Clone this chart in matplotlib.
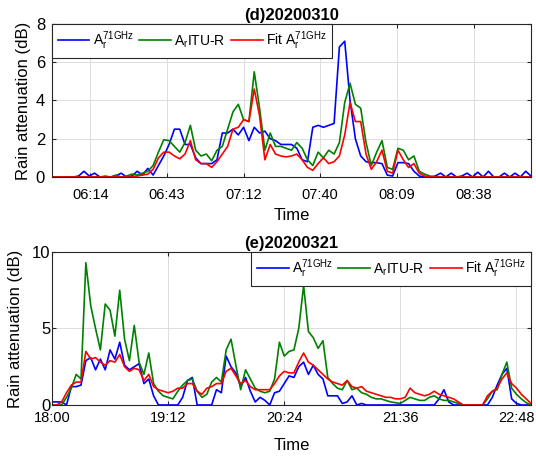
import numpy as np
import matplotlib
matplotlib.use("Agg")
import matplotlib.pyplot as plt
from matplotlib.ticker import FixedLocator, FuncFormatter

plt.rcParams['font.family'] = ['Liberation Sans', 'DejaVu Sans']
plt.rcParams['mathtext.fontset'] = 'custom'
plt.rcParams['mathtext.rm'] = 'Liberation Sans'
plt.rcParams['mathtext.it'] = 'Liberation Sans:italic'
plt.rcParams['mathtext.bf'] = 'Liberation Sans:bold'

# (d) 2020-03-10, sampled every 2 min from 06:00
d_step = 2
d_meas = [0, 0, 0, 0, 0, 0.05, 0.3, 0.05, 0.2, 0,
          0, 0, 0.05, 0.2, 0, 0.05, 0.3, 0.1, 0.45, 0.1,
          0.6, 1.1, 1.7, 2.5, 2.5, 1.7, 1.7, 1.0, 0.7, 0.7,
          0.7, 0.9, 2.3, 2.3, 2.5, 2.2, 2.6, 1.9, 2.6, 2.3,
          2.4, 2.0, 1.9, 1.7, 1.7, 1.7, 1.5, 0.9, 0.8, 2.6,
          2.7, 2.6, 2.7, 2.8, 6.8, 7.1, 4.0, 2.0, 1.1, 0.8,
          0.75, 0.75, 0.7, 0.1, 0.05, 0.75, 0.75, 0.7, 0.3, 0.05,
          0, 0, 0.05, 0.2, 0, 0.2, 0, 0.05, 0.2, 0,
          0.25, 0, 0.3, 0, 0, 0.2, 0, 0.2, 0, 0.3,
          0.05]
d_itu = [0, 0, 0, 0, 0, 0, 0, 0, 0, 0,
         0.05, 0, 0.1, 0, 0.05, 0.15, 0.1, 0.2, 0.3, 0.6,
         1.3, 1.95, 1.9, 1.6, 1.3, 1.8, 2.7, 1.4, 1.1, 1.2,
         0.85, 1.4, 1.6, 2.5, 3.4, 3.8, 3.0, 2.9, 5.5, 3.6,
         1.4, 2.3, 1.6, 1.6, 1.5, 1.4, 1.8, 1.5, 0.9, 0.6,
         1.3, 1.0, 1.4, 1.2, 1.8, 3.9, 4.9, 3.8, 3.6, 1.8,
         0.6, 1.3, 1.9, 0.5, 0.4, 1.5, 1.4, 0.9, 1.1, 0.3,
         0.15, 0.05, 0, 0, 0, 0, 0, 0, 0, 0,
         0, 0, 0, 0, 0, 0, 0, 0, 0, 0,
         0]
d_fit = [0, 0, 0, 0, 0, 0, 0, 0, 0, 0,
         0, 0, 0, 0, 0, 0, 0.05, 0.1, 0.15, 0.4,
         1.0, 1.3, 1.3, 1.1, 0.95, 1.2, 1.9, 0.9, 0.7, 0.7,
         0.5, 0.8, 1.2, 1.6, 2.5, 2.6, 3.0, 2.9, 4.6, 3.2,
         0.9, 1.7, 1.2, 1.1, 1.05, 1.1, 1.2, 0.9, 0.5, 0.35,
         0.7, 1.0, 0.7, 0.8, 1.1, 2.2, 3.9, 2.9, 2.9, 1.2,
         0.4, 0.8, 1.4, 0.3, 0.2, 1.4, 0.9, 0.5, 0.7, 0.2,
         0.05, 0, 0, 0, 0, 0, 0, 0, 0, 0,
         0, 0, 0, 0, 0, 0, 0, 0, 0, 0,
         0]

# (e) 2020-03-21, sampled every 3 min from 18:00
e_step = 3
e_meas = [0.2, 0.2, 0.2, 0.0, 1.2, 1.2, 1.3, 2.9, 3.1, 2.3,
          3.0, 2.3, 3.6, 3.0, 4.1, 2.6, 2.3, 2.5, 2.7, 1.4,
          1.7, 0.6, 0, 0, 0, 0, 0, 0.5, 1.6, 1.8,
          0, 0, 0, 0, 1.0, 0.8, 3.2, 2.5, 2.1, 1.2,
          1.8, 0.9, 0.2, 0.5, 0.3, 0, 0.8, 0.9, 1.4, 1.9,
          1.8, 2.5, 2.8, 2.0, 2.6, 2.0, 1.7, 0.6, 0.6, 0.6,
          0.1, 0.2, 0.6, 0, 0.1, 0, 0, 0, 0, 0,
          0, 0, 0, 0, 0, 0, 0, 0, 0, 0,
          0.4, 1.0, 0.2, 0, 0, 0, 0, 0, 0, 0,
          0, 0.5, 1.3, 2.0, 2.4, 0.4, 0.1, 0, 0, 0]
e_itu = [0, 0, 0, 0.5, 1.1, 2.0, 1.7, 9.3, 6.5, 5.0,
         3.6, 6.6, 6.2, 4.5, 7.5, 4.3, 2.9, 5.2, 2.8, 2.0,
         3.4, 1.4, 0.9, 0.6, 0.5, 0.4, 0.9, 1.3, 1.6, 1.7,
         0.9, 0.5, 0.7, 1.5, 1.8, 1.5, 3.6, 4.3, 2.6, 1.0,
         2.3, 1.7, 1.1, 0.9, 0.8, 0.9, 1.7, 4.1, 3.2, 3.5,
         3.6, 5.0, 7.8, 4.8, 4.4, 3.7, 4.2, 1.8, 1.4, 1.1,
         1.0, 1.6, 1.0, 1.1, 0.8, 0.7, 0.5, 0.4, 0.4, 0.3,
         0.2, 0.15, 0.1, 0.3, 0.5, 0.4, 0.3, 0.3, 0.5, 0.6,
         0.4, 0.3, 0.3, 0.2, 0.1, 0, 0, 0, 0, 0,
         0.4, 0.9, 1.0, 2.0, 2.8, 1.1, 0.7, 0.4, 0.15, 0]
e_fit = [0, 0, 0.2, 0.8, 1.3, 1.5, 1.5, 3.5, 3.0, 3.1,
         2.8, 2.6, 2.9, 2.8, 3.3, 2.5, 2.2, 2.4, 2.3, 1.6,
         2.0, 1.2, 1.0, 0.9, 0.8, 0.9, 1.1, 1.1, 1.4, 1.4,
         0.9, 0.7, 1.1, 1.2, 1.4, 1.4, 2.2, 2.4, 1.9, 1.4,
         1.6, 1.2, 1.0, 1.0, 1.0, 1.0, 1.4, 1.9, 2.2, 2.1,
         2.1, 2.8, 3.4, 2.8, 2.6, 2.3, 2.0, 1.7, 1.5, 1.4,
         1.3, 1.6, 1.2, 1.1, 1.2, 0.9, 0.8, 0.7, 0.6, 0.5,
         0.5, 0.4, 0.4, 0.5, 1.1, 0.8, 0.7, 0.6, 0.7, 0.9,
         0.7, 0.6, 0.5, 0.4, 0.2, 0, 0, 0, 0, 0,
         0.6, 0.9, 1.1, 1.7, 2.1, 1.4, 1.1, 0.7, 0.4, 0.1]

labels = [r'A$_{\mathrm{r}}^{\mathrm{71GHz}}$',
          r'A$_{\mathrm{r}}$ITU-R',
          r'Fit A$_{\mathrm{r}}^{\mathrm{71GHz}}$']
colors = ['#0000ff', '#008000', '#ff0000']


def clock(start_hour):
    def fmt(x, pos):
        total = int(start_hour * 60 + x + 1e-6)
        return f"{total // 60:02d}:{total % 60:02d}"
    return FuncFormatter(fmt)


def panel(ax, step, series, title, start_hour, xticks, ymax, yticks,
          legend_loc, xpad, ypad, ylab_x, xlab_y):
    t = np.arange(len(series[0])) * step
    for s, c, lab in zip(series, colors, labels):
        assert len(s) == len(t)
        ax.plot(t, s, color=c, lw=1.2, label=lab)
    ax.set_xlim(0, t[-1])
    ax.set_ylim(0, ymax)
    ax.xaxis.set_major_locator(FixedLocator(xticks))
    ax.xaxis.set_major_formatter(clock(start_hour))
    ax.set_yticks(yticks)
    ax.grid(True, color='#dcdcdc', lw=0.7)
    ax.set_axisbelow(True)
    for sp in ax.spines.values():
        sp.set_color('#262626')
        sp.set_linewidth(0.8)
    ax.tick_params(axis='x', direction='in', top=True, labelsize=10.5,
                   pad=xpad, length=3, color='#262626')
    ax.tick_params(axis='y', direction='in', right=True, labelsize=12,
                   pad=ypad, length=3, color='#262626')
    ax.set_title(title, fontsize=12, fontweight='bold', pad=3)
    ax.set_xlabel('Time', fontsize=12)
    ax.xaxis.set_label_coords(0.5, xlab_y)
    ax.set_ylabel('Rain attenuation (dB)', fontsize=12)
    ax.yaxis.set_label_coords(ylab_x, 0.5)
    leg = ax.legend(loc=legend_loc, ncol=3, fontsize=10, frameon=True,
                    fancybox=False, borderaxespad=0, handlelength=2.3,
                    handletextpad=0.25, columnspacing=0.35, borderpad=0.4)
    leg.get_frame().set_edgecolor('#262626')
    leg.get_frame().set_linewidth(0.8)
    leg.get_frame().set_alpha(1)


fig = plt.figure(figsize=(5.36, 4.57), dpi=100)
ax1 = fig.add_axes([0.097, 0.6127, 0.8937, 0.3348])
ax2 = fig.add_axes([0.097, 0.1138, 0.8937, 0.3348])

panel(ax1, d_step, [d_meas, d_itu, d_fit], '(d)20200310', 6,
      [14.4 + 28.8 * k for k in range(6)], 8, [0, 2, 4, 6, 8],
      'upper left', 8, 5, -0.044, -0.2)
panel(ax2, e_step, [e_meas, e_itu, e_fit], '(e)20200321', 18,
      [72 * k for k in range(5)], 10, [0, 5, 10],
      'upper right', 4, 1, -0.06, -0.215)

fig.savefig('out.png', dpi=100)
